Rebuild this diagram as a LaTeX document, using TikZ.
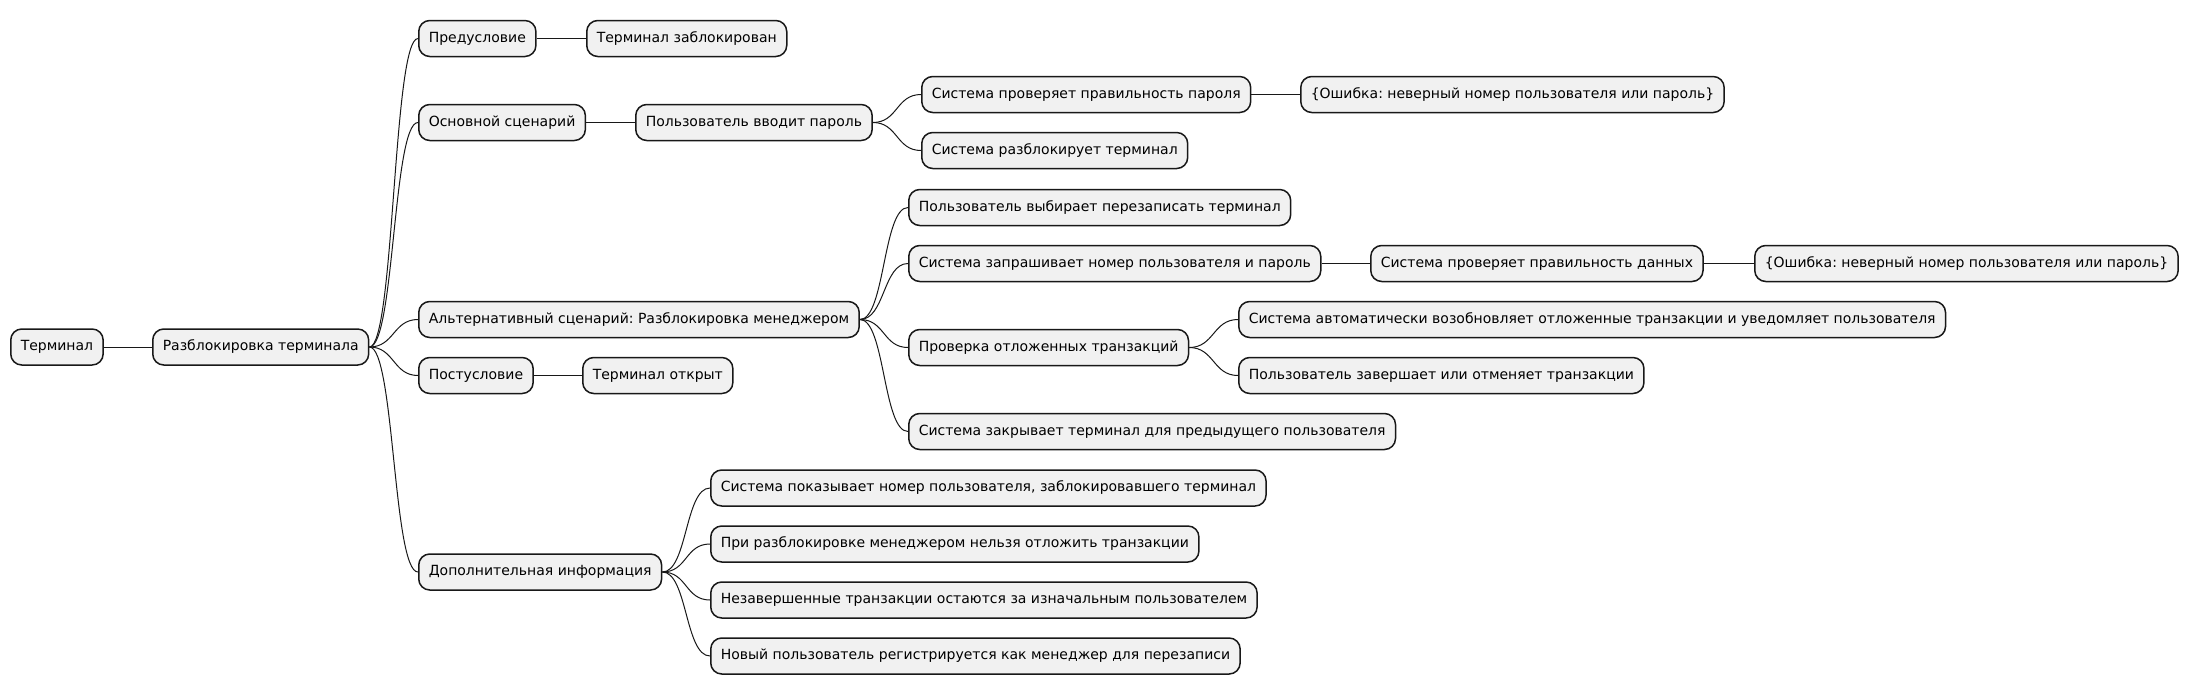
\documentclass[tikz,border=0pt]{standalone}
\usepackage{fontspec}
\setmainfont{DejaVu Sans}
\frenchspacing
\definecolor{boxfill}{HTML}{F1F1F1}
\definecolor{boxline}{HTML}{181818}
\tikzset{
  mmbox/.style={draw=boxline, fill=boxfill, line width=1.5pt, rounded corners=11pt,
    inner xsep=10pt, inner ysep=11.25pt, text height=10.5pt, text depth=3pt,
    anchor=west, font=\fontsize{14pt}{17pt}\selectfont, text=black},
  mmlink/.style={draw=boxline, line width=1pt}
}
\newcommand{\mmcurve}[2]{\draw[mmlink] (#1.east) .. controls +(25,0) and +(-25,0) .. (#2.west);}
\begin{document}
\begin{tikzpicture}[x=1pt,y=-1pt]
\useasboundingbox (0,0) rectangle (2187,696);
% level 0,1
\node[mmbox] (root) at (10,347) {Терминал};
\node[mmbox] (unl) at (152,347) {Разблокировка терминала};
% level 2
\node[mmbox] (pre) at (418,38.5) {Предусловие};
\node[mmbox] (main) at (418,122.5) {Основной сценарий};
\node[mmbox] (alt) at (418,319.5) {Альтернативный сценарий: Разблокировка менеджером};
\node[mmbox] (post) at (418,375.5) {Постусловие};
\node[mmbox] (add) at (418,572) {Дополнительная информация};
% precondition
\node[mmbox] (pre1) at (586,38.5) {Терминал заблокирован};
% main
\node[mmbox] (m1) at (635,122.5) {Пользователь вводит пароль};
\node[mmbox] (m11) at (921,94.5) {Система проверяет правильность пароля};
\node[mmbox] (m111) at (1300,94.5) {\{Ошибка: неверный номер пользователя или пароль\}};
\node[mmbox] (m12) at (921,150.5) {Система разблокирует терминал};
% alternative
\node[mmbox] (a1) at (908,207.5) {Пользователь выбирает перезаписать терминал};
\node[mmbox] (a2) at (908,263.5) {Система запрашивает номер пользователя и пароль};
\node[mmbox] (a21) at (1370,263.5) {Система проверяет правильность данных};
\node[mmbox] (a211) at (1754,263.5) {\{Ошибка: неверный номер пользователя или пароль\}};
\node[mmbox] (a3) at (908,347.5) {Проверка отложенных транзакций};
\node[mmbox] (a31) at (1238,319.5) {Система автоматически возобновляет отложенные транзакции и уведомляет пользователя};
\node[mmbox] (a32) at (1238,375.5) {Пользователь завершает или отменяет транзакции};
\node[mmbox] (a4) at (908,431.5) {Система закрывает терминал для предыдущего пользователя};
% postcondition
\node[mmbox] (post1) at (582,375.5) {Терминал открыт};
% additional
\node[mmbox] (d1) at (710,488) {Система показывает номер пользователя, заблокировавшего терминал};
\node[mmbox] (d2) at (710,544) {При разблокировке менеджером нельзя отложить транзакции};
\node[mmbox] (d3) at (710,600) {Незавершенные транзакции остаются за изначальным пользователем};
\node[mmbox] (d4) at (710,656) {Новый пользователь регистрируется как менеджер для перезаписи};
% links
\mmcurve{root}{unl}
\mmcurve{unl}{pre}
\mmcurve{unl}{main}
\mmcurve{unl}{alt}
\mmcurve{unl}{post}
\mmcurve{unl}{add}
\mmcurve{pre}{pre1}
\mmcurve{main}{m1}
\mmcurve{m1}{m11}
\mmcurve{m11}{m111}
\mmcurve{m1}{m12}
\mmcurve{alt}{a1}
\mmcurve{alt}{a2}
\mmcurve{a2}{a21}
\mmcurve{a21}{a211}
\mmcurve{alt}{a3}
\mmcurve{a3}{a31}
\mmcurve{a3}{a32}
\mmcurve{alt}{a4}
\mmcurve{post}{post1}
\mmcurve{add}{d1}
\mmcurve{add}{d2}
\mmcurve{add}{d3}
\mmcurve{add}{d4}
\end{tikzpicture}
\end{document}
